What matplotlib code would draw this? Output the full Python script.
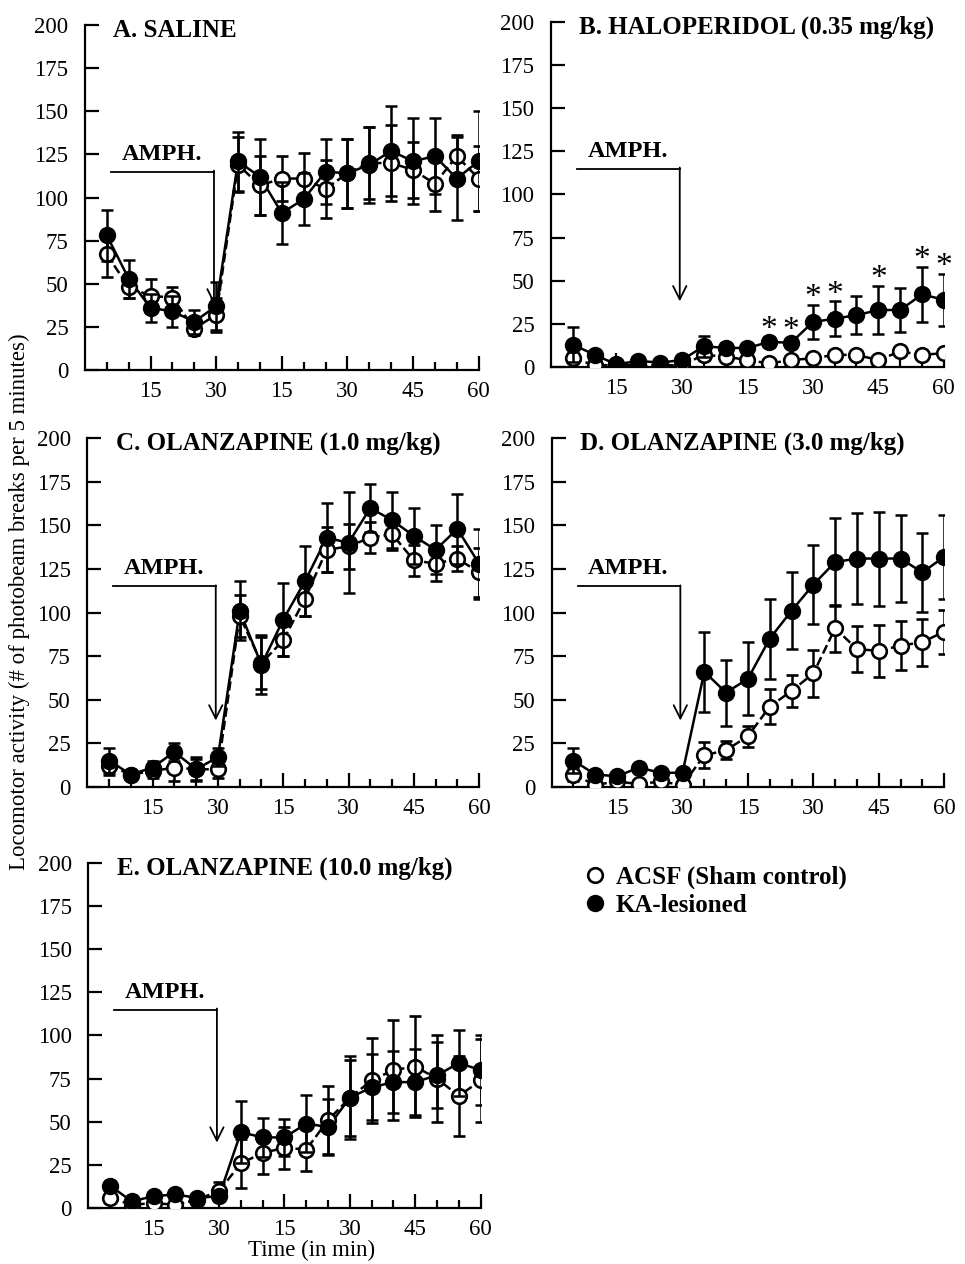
import matplotlib.pyplot as plt

plt.rcParams['font.family'] = ['Liberation Serif', 'DejaVu Serif']

# time points: 6 x 5 min before AMPH, 12 x 5 min after
t = [5, 10, 15, 20, 25, 30, 35, 40, 45, 50, 55, 60, 65, 70, 75, 80, 85, 90]
tick_pos = [15, 30, 45, 60, 75, 90]
tick_lab = ['15', '30', '15', '30', '45', '60']

titles = ['A. SALINE', 'B. HALOPERIDOL (0.35 mg/kg)', 'C. OLANZAPINE (1.0 mg/kg)',
          'D. OLANZAPINE (3.0 mg/kg)', 'E. OLANZAPINE (10.0 mg/kg)']

# ACSF (sham control) means / sem
acsf_a = [67, 48, 43, 42, 24, 32, 119, 107, 111, 111, 105, 114, 120, 120, 116, 108, 124, 111]
acsf_a_err = [13, 6, 10, 6, 4, 10, 16, 17, 13, 15, 17, 20, 21, 22, 16, 16, 12, 19]
ka_a = [78, 53, 36, 34, 28, 37, 121, 112, 91, 99, 115, 114, 119, 127, 121, 124, 111, 121]
ka_a_err = [15, 11, 8, 9, 7, 14, 17, 22, 18, 15, 19, 20, 22, 26, 25, 22, 24, 29]

acsf_b = [5, 1, 1, 1, 1, 1, 7, 6, 4, 2, 4, 5, 7, 7, 4, 9, 7, 8]
acsf_b_err = [3, 1, 1, 1, 1, 1, 3, 2, 2, 1, 2, 2, 2, 2, 2, 2, 2, 2]
ka_b = [13, 7, 1.5, 3.5, 2.5, 4, 12, 11, 11, 14.5, 14, 26, 28, 30, 33, 33, 42, 39]
ka_b_err = [10, 2, 1, 1, 1, 1, 6, 3, 3, 3, 3, 10, 10, 11, 14, 13, 16, 15]

acsf_c = [12, 7, 9, 11, 10, 10, 98, 71, 84, 108, 136, 138, 143, 145, 130, 128, 131, 123]
acsf_c_err = [5, 2, 4, 8, 6, 5, 12, 15, 9, 10, 13, 13, 9, 9, 9, 10, 7, 14]
ka_c = [15, 7, 11, 20, 10, 17, 101, 70, 96, 118, 143, 140, 160, 153, 144, 136, 148, 128]
ka_c_err = [7, 2, 4, 5, 7, 5, 17, 17, 21, 20, 20, 29, 14, 16, 16, 14, 20, 20]

acsf_d = [7, 1, 3, 1.5, 3, 1, 18, 21, 29, 46, 55, 65, 91, 79, 78, 81, 83, 89]
acsf_d_err = [4, 1, 1, 1, 1, 1, 7.5, 5, 6, 10, 9, 13.5, 13.5, 13, 15, 14, 13.5, 12.7]
ka_d = [15, 7, 6, 11, 8, 8, 66, 54, 62, 85, 101, 116, 129, 131, 131, 131, 123, 132]
ka_d_err = [7, 2, 2, 2, 2, 2, 23, 19, 21, 23, 22, 22.5, 25, 26, 27, 25, 22.5, 24]

acsf_e = [6, 2, 3, 2, 5, 10, 26, 32, 35, 34, 51, 64, 74, 80, 82, 75, 65, 74]
acsf_e_err = [3, 1, 2, 2, 2, 5, 14, 12, 12, 12.5, 19.5, 22, 24.5, 29, 29, 25, 23, 24]
ka_e = [13, 4, 7, 8, 6, 7, 44, 41, 41, 49, 47, 64, 70, 73, 73, 77, 84, 80]
ka_e_err = [3, 1, 2, 2, 2, 3, 18, 11.5, 10.5, 16.5, 16, 24, 19, 18, 19, 19, 19, 20]

# significant differences in panel B (index into t)
stars_b = [9, 10, 11, 12, 14, 16, 17]

acsf = [acsf_a, acsf_b, acsf_c, acsf_d, acsf_e]
acsf_err = [acsf_a_err, acsf_b_err, acsf_c_err, acsf_d_err, acsf_e_err]
ka = [ka_a, ka_b, ka_c, ka_d, ka_e]
ka_err = [ka_a_err, ka_b_err, ka_c_err, ka_d_err, ka_e_err]

boxes = [
    [0.088, 0.7073, 0.408, 0.2729],
    [0.571, 0.7097, 0.407, 0.273],
    [0.0905, 0.3776, 0.406, 0.2756],
    [0.5717, 0.3776, 0.4067, 0.2756],
    [0.0915, 0.0441, 0.4066, 0.2734],
]

fig = plt.figure(figsize=(9.65, 12.64), dpi=100)

for i in range(5):
    ax = fig.add_axes(boxes[i])
    ax.errorbar(t, acsf[i], yerr=acsf_err[i], fmt='o', color='black', mfc='white',
                mec='black', mew=1.9, ms=10.5, capsize=4, elinewidth=1.8, capthick=1.8,
                zorder=3)
    ax.plot(t[:6], acsf[i][:6], '--', color='black', lw=1.8, zorder=2)
    ax.plot(t[5:], acsf[i][5:], '--', color='black', lw=1.8, zorder=2)
    ax.errorbar(t, ka[i], yerr=ka_err[i], fmt='o', color='black', mfc='black',
                ms=11.5, capsize=4, elinewidth=1.8, capthick=1.8, zorder=4)
    ax.plot(t, ka[i], '-', color='black', lw=1.8, zorder=2)

    ax.set_xlim(0, 90)
    ax.set_ylim(0, 200)
    ax.spines['top'].set_visible(False)
    ax.spines['right'].set_visible(False)
    ax.spines['left'].set_linewidth(1.6)
    ax.spines['bottom'].set_linewidth(1.6)
    ax.spines['bottom'].set_bounds(0, 90)
    ax.set_yticks(range(0, 201, 25))
    ax.set_xticks(tick_pos)
    ax.set_xticklabels(tick_lab)
    ax.set_xticks(t, minor=True)
    ax.tick_params(axis='y', direction='in', length=10, width=1.6, labelsize=16.5, pad=12)
    ax.tick_params(axis='x', which='major', direction='in', length=10, width=1.6,
                   labelsize=16.5, pad=8)
    ax.tick_params(axis='x', which='minor', direction='in', length=6, width=1.6)

    ax.text(6.5, 197, titles[i], fontsize=18, fontweight='bold', va='center',
            ha='left')

    # amphetamine injection marker
    ax.plot([6, 29.5], [115, 115], color='black', lw=1.3)
    ax.annotate('', xy=(29.5, 38), xytext=(29.5, 115.6),
                arrowprops=dict(arrowstyle='->', color='black', lw=1.3,
                                mutation_scale=24, shrinkA=0, shrinkB=0))
    ax.text(17.6, 125, 'AMPH.', fontsize=17.5, fontweight='bold', ha='center',
            va='center')

    if i == 1:
        for k in stars_b:
            ax.text(t[k], ka[i][k] + ka_err[i][k] + 4, '*', fontsize=24,
                    ha='center', va='center')

fig.text(0.0197, 0.524, 'Locomotor activity (# of photobeam breaks per 5 minutes)',
         rotation=90, fontsize=16.5, ha='center', va='center')
fig.text(0.323, 0.002, 'Time (in min)', fontsize=16.5, ha='center', va='bottom')

h1 = plt.Line2D([], [], ls='none', marker='o', ms=10.5, mfc='white', mec='black', mew=1.9)
h2 = plt.Line2D([], [], ls='none', marker='o', ms=11.5, mfc='black', mec='black')
fig.legend([h1, h2], ['ACSF (Sham control)', 'KA-lesioned'], loc='upper left',
           bbox_to_anchor=(0.58, 0.333), frameon=False, handletextpad=0.35,
           handlelength=1.0, labelspacing=0.2,
           prop={'family': 'Liberation Serif', 'weight': 'bold', 'size': 18})

fig.savefig('out.png', dpi=100)
